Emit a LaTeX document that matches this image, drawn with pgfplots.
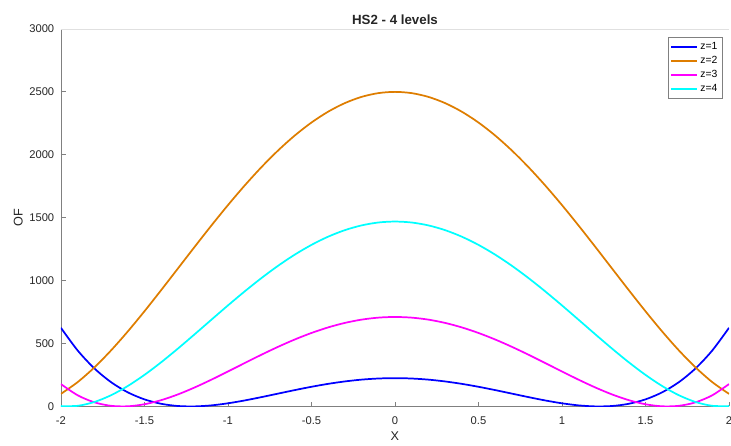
\documentclass[border=0pt]{standalone}
\usepackage{pgfplots}
\usepackage{pgfplotstable}
\pgfplotsset{compat=1.18}
\usepackage{fontspec}
\setmainfont{Liberation Sans}

\definecolor{zblue}{RGB}{0,0,255}
\definecolor{zorange}{RGB}{222,125,0}
\definecolor{zmagenta}{RGB}{255,0,255}
\definecolor{zcyan}{RGB}{0,255,255}
\definecolor{axgray}{RGB}{128,128,128}
\definecolor{txtgray}{RGB}{38,38,38}

% OF over X, one column per level z
\pgfplotstableread{
x     z1     z2      z3     z4
-2.0  625.0  100.0   177.8  2.8
-1.9  445.2  193.2   89.0   5.0
-1.8  302.8  309.8   32.9   35.2
-1.7  193.2  445.2   5.0    89.0
-1.6  112.4  595.4   1.1    162.1
-1.5  56.3   756.3   17.4   250.7
-1.4  21.2   924.2   49.9   350.9
-1.3  3.6    1095.6  95.4   459.4
-1.2  0.4    1267.4  150.5  572.8
-1.1  8.4    1436.4  212.2  688.2
-1.0  25.0   1600.0  277.8  802.8
-0.9  47.6   1755.6  344.7  914.0
-0.8  74.0   1901.0  410.8  1019.7
-0.7  102.0  2034.0  473.8  1117.8
-0.6  130.0  2153.0  532.1  1206.4
-0.5  156.3  2256.3  584.0  1284.0
-0.4  179.6  2342.6  628.3  1349.3
-0.3  198.8  2410.8  663.9  1401.2
-0.2  213.2  2460.2  690.0  1438.9
-0.1  222.0  2490.0  705.8  1461.8
0.0   225.0  2500.0  711.1  1469.4
0.1   222.0  2490.0  705.8  1461.8
0.2   213.2  2460.2  690.0  1438.9
0.3   198.8  2410.8  663.9  1401.2
0.4   179.6  2342.6  628.3  1349.3
0.5   156.3  2256.3  584.0  1284.0
0.6   130.0  2153.0  532.1  1206.4
0.7   102.0  2034.0  473.8  1117.8
0.8   74.0   1901.0  410.8  1019.7
0.9   47.6   1755.6  344.7  914.0
1.0   25.0   1600.0  277.8  802.8
1.1   8.4    1436.4  212.2  688.2
1.2   0.4    1267.4  150.5  572.8
1.3   3.6    1095.6  95.4   459.4
1.4   21.2   924.2   49.9   350.9
1.5   56.3   756.3   17.4   250.7
1.6   112.4  595.4   1.1    162.1
1.7   193.2  445.2   5.0    89.0
1.8   302.8  309.8   32.9   35.2
1.9   445.2  193.2   89.0   5.0
2.0   625.0  100.0   177.8  2.8
}\hsdata

\begin{document}
\begin{tikzpicture}
\begin{axis}[
    name=ax,
    scale only axis,
    width=501.75pt, height=283.5pt,
    xmin=-2, xmax=2, ymin=0, ymax=3000,
    xtick={-2,-1.5,-1,-0.5,0,0.5,1,1.5,2},
    ytick={0,500,1000,1500,2000,2500,3000},
    scaled ticks=false,
    /pgf/number format/assume math mode=true,
    /pgf/number format/set thousands separator={},
    axis x line*=bottom,
    axis y line*=left,
    axis line style={axgray, line width=0.6pt},
    tick align=inside,
    major tick length=3.5pt,
    tick style={axgray, line width=0.6pt},
    ticklabel style={font=\fontsize{8.4}{10}\selectfont, text=txtgray},
    xticklabel style={yshift=-4pt},
    yticklabel style={xshift=-1.5pt},
    title={HS2 - 4 levels},
    title style={font=\bfseries\fontsize{10}{12}\selectfont, text=txtgray, yshift=-6pt},
    xlabel={X},
    ylabel={OF},
    label style={font=\fontsize{9.5}{11}\selectfont, text=txtgray},
    xlabel style={yshift=1.5pt},
    ylabel style={yshift=-2pt},
    legend style={
        at={(0.991,0.979)}, anchor=north east,
        draw=axgray, line width=0.5pt,
        font=\fontsize{7.8}{8.5}\selectfont,
        row sep=-0.5pt,
        inner xsep=2pt, inner ysep=2pt,
        cells={anchor=west},
    },
    legend image code/.code={\draw[#1, line width=1.3pt] (0pt,0pt) -- (19pt,0pt);},
    every axis plot/.append style={line width=1.3pt, smooth},
]
\addplot[zblue] table[x=x, y=z1] {\hsdata};
\addplot[zorange] table[x=x, y=z2] {\hsdata};
\addplot[zmagenta] table[x=x, y=z3] {\hsdata};
\addplot[zcyan] table[x=x, y=z4] {\hsdata};
\legend{z=1, z=2, z=3, z=4}
\draw[black!12, line width=0.6pt] (rel axis cs:0,1) -- (rel axis cs:1,1);
\end{axis}
\pgfresetboundingbox
\path ([shift={(-45.75pt,-29.25pt)}]ax.south west) rectangle ([shift={(1.5pt,21.75pt)}]ax.north east);
\end{tikzpicture}
\end{document}
